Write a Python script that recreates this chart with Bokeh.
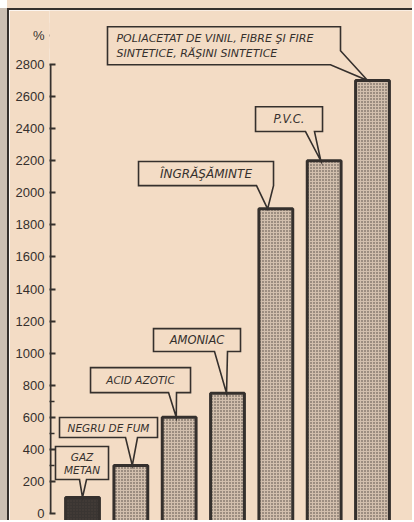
from bokeh.plotting import figure
from bokeh.models import Range1d, FixedTicker, ColumnDataSource, BoxAnnotation
from bokeh.core.properties import value
from bokeh.embed import file_html
from bokeh.resources import INLINE

# ---------------- data ----------------
categories = ["GAZ METAN", "NEGRU DE FUM", "ACID AZOTIC", "AMONIAC",
              "ÎNGRĂŞĂMINTE", "P.V.C.",
              "POLIACETAT DE VINIL, FIBRE ŞI FIRE SINTETICE, RĂŞINI SINTETICE"]
values = [100, 300, 600, 750, 1900, 2200, 2700]
label_lines = [["GAZ", "METAN"], ["NEGRU DE FUM"], ["ACID AZOTIC"], ["AMONIAC"],
               ["ÎNGRĂŞĂMINTE"], ["P.V.C."],
               ["POLIACETAT DE VINIL, FIBRE ŞI FIRE", "SINTETICE, RĂŞINI SINTETICE"]]
tick_values = list(range(0, 2801, 200))
minor_tick_values = [300, 500, 700]
unit_label = "%"

# ---------------- style / layout ----------------
PAPER = "#f3dcc5"
INK = "#35302d"
BAR_FILL = "#d2bfad"
BAR_DARK = "#3a3532"
UNIT_POS = 2980          # vertical position of the "%" unit label (in % units)
AXIS_X = -0.662          # where the drawn axis line sits (category-index units)

# callout boxes (category-index units, % units): x0, x1, y0, y1, tail_left, tail_right, tip_dx
callout_boxes = [
    (-0.559, 0.538, 212, 418, -0.062, 0.083, 0.0),
    (-0.476, 1.552, 474, 599, 0.890, 1.138, 0.03),
    (0.166, 2.235, 754, 910, 1.78, 1.945, -0.06),
    (1.469, 3.269, 1010, 1153, 2.731, 3.0, -0.02),
    (1.159, 3.952, 2045, 2195, 3.6, 3.952, -0.17),
    (3.58, 4.966, 2382, 2537, 4.614, 4.80, -0.07),
    (0.517, 5.338, 2799, 3036, 5.13, 2886, -0.1),   # last: tail right base on right edge at y
]
# text anchor positions per line (x, y, align) and font size per callout
text_pos = [
    [(-0.01, 352, "center"), (-0.01, 272, "center")],
    [(0.538, 536, "center")],
    [(1.2, 832, "center")],
    [(2.369, 1082, "center")],
    [(2.555, 2120, "center")],
    [(4.273, 2459, "center")],
    [(0.703, 2964, "left"), (0.703, 2866, "left")],
]
text_sizes = ["10.5px", "10.5px", "10.5px", "11.5px", "12px", "11.5px", "11px"]

p = figure(width=405, height=512, output_backend="svg", toolbar_location=None,
           x_range=Range1d(-0.683, 6.869), y_range=Range1d(-56, 3137),
           x_axis_location=None, min_border_left=40, min_border_right=0,
           min_border_top=0, min_border_bottom=0)
p.styles = {"margin-left": "7px", "margin-top": "8px",
            "border-left": f"2px solid {INK}", "border-top": f"2px solid {INK}",
            "box-shadow": "-9px 0 0 0 #cbbfb3, 0 -10px 0 0 #f1dbc6"}
p.background_fill_color = PAPER
p.border_fill_color = PAPER
p.outline_line_color = None
p.xgrid.visible = False
p.ygrid.visible = False

idx = list(range(len(categories)))
fills = [BAR_DARK] + [BAR_FILL] * (len(categories) - 1)
src = ColumnDataSource(dict(x=idx, top=values, fill=fills, name=categories))
p.vbar(x="x", top="top", bottom=-300, width=0.7, source=src,
       fill_color="fill", line_color=INK, line_width=3,
       hatch_pattern="dot", hatch_color="#4a413b", hatch_scale=3.0, hatch_weight=1.3)

# callouts
xs, ys = [], []
for i, (x0, x1, y0, y1, tl, tr, dx) in enumerate(callout_boxes):
    tipx, tipy = idx[i] + dx, values[i]
    if i == len(callout_boxes) - 1:
        px = [x0, x1, x1, tipx, tl, x0]
        py = [y1, y1, tr, tipy, y0, y0]
    else:
        px = [x0, x1, x1, tr, tipx, tl, x0]
        py = [y1, y1, y0, y0, tipy, y0, y0]
    xs.append(px)
    ys.append(py)
p.patches(xs, ys, fill_color=PAPER, line_color=INK, line_width=1.6, line_join="miter")

tx, ty, tt, ta, ts = [], [], [], [], []
for i, lines in enumerate(label_lines):
    for (x, y, al), line in zip(text_pos[i], lines):
        tx.append(x); ty.append(y); tt.append(line); ta.append(al); ts.append(text_sizes[i])
tsrc = ColumnDataSource(dict(x=tx, y=ty, text=tt, align=ta, size=ts))
p.text(x="x", y="y", text="text", source=tsrc, text_align="align",
       text_baseline="middle", text_font=value("DejaVu Sans"),
       text_font_style="italic", text_font_size="size", text_color=INK)

# y axis (its line is drawn as a segment so it stops at the top tick; "%" is a labelled tick)
ax = p.yaxis[0]
ax.ticker = FixedTicker(ticks=tick_values + [UNIT_POS], minor_ticks=minor_tick_values)
ax.major_label_overrides = {UNIT_POS: unit_label}
ax.bounds = (0, UNIT_POS)
ax.axis_line_color = None
ax.major_tick_in = 6
ax.major_tick_out = 0
ax.minor_tick_in = 5
ax.minor_tick_out = 0
ax.major_tick_line_color = INK
ax.major_tick_line_width = 2
ax.minor_tick_line_color = INK
ax.minor_tick_line_width = 1.5
ax.major_label_standoff = 5
ax.major_label_text_font = "Liberation Sans"
ax.major_label_text_font_size = "13px"
ax.major_label_text_color = INK

p.segment(x0=[AXIS_X], y0=[tick_values[0]], x1=[AXIS_X], y1=[tick_values[-1]],
          line_color=INK, line_width=2)
# hide the tick mark that carries the "%" label
p.add_layout(BoxAnnotation(left=-0.9, right=-0.4, bottom=UNIT_POS - 80, top=UNIT_POS + 80,
                           fill_color=PAPER, fill_alpha=1.0, line_color=None, line_alpha=0.0,
                           line_width=0, level="overlay"))

open("out.html", "w").write(file_html(p, INLINE))
